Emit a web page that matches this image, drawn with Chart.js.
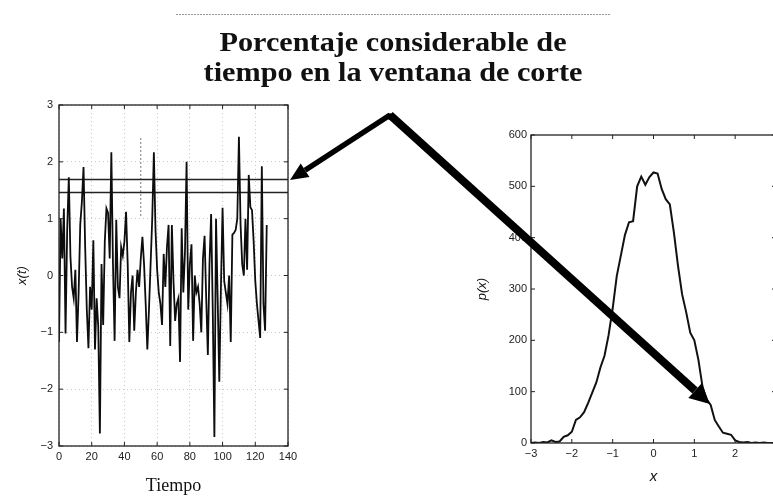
<!DOCTYPE html>
<html>
<head>
<meta charset="utf-8">
<script src="https://cdn.jsdelivr.net/npm/chart.js@4.4.1/dist/chart.umd.min.js"></script>
<style>
  html, body { margin: 0; padding: 0; background: #fff; width: 773px; height: 497px; overflow: hidden; }
  canvas { position: absolute; left: 0; top: 0; }
</style>
</head>
<body>
<canvas id="signalChart" width="773" height="497"></canvas>
<canvas id="densityChart" width="800" height="497"></canvas>
<script>
// left panel: x(t) against time
const signalValues = [
  -1.17, 1.0, 0.3, 1.18, -1.02, 0.8, 1.73, 0.33, -0.2, -0.4,
  0.1, -1.17, -0.3, 0.9, 1.3, 1.91, 0.5, -0.6, -1.28, -0.2,
  -0.6, 0.62, -1.3, -0.4, -0.9, -2.78, 0.2, -0.87, 0.6, 1.18,
  1.1, 0.3, 2.17, 0.2, -1.15, 0.98, -0.2, -0.4, 0.5, 0.35,
  0.6, 1.12, 0.2, -1.17, -0.3, 0.0, -0.97, -0.3, 0.1, -0.2,
  0.3, 0.68, 0.2, -0.5, -1.3, -0.6, 0.2, 1.0, 2.17, 0.8,
  0.1, -0.3, -0.5, -0.87, 0.38, -0.2, 0.5, 0.89, -1.24, 0.89,
  -0.1, -0.8, -0.5, -0.4, -1.52, 0.83, -0.3, 0.4, 2.0, -0.6,
  0.2, 0.55, -1.15, 0.0, -0.3, -0.2, -0.5, -1.0, 0.3, 0.7,
  -0.4, -1.4, 0.2, 1.08, -0.6, -2.84, 1.0, -0.4, -1.87, -0.2,
  1.19, -0.1, -0.3, -0.5, 0.0, -1.17, 0.72, 0.75, 0.8, 1.0,
  2.44, 0.9, 0.2, 0.0, 1.0, 0.1, 1.77, 1.2, 1.15, 0.6,
  -0.1, -0.5, -0.8, -1.1, 1.92, -0.5, -0.97, 0.89
];
const cutLevels = [1.69, 1.46];
const markerTime = 50;
const markerRange = [2.42, 1.04];
const timeTicks = [0, 20, 40, 60, 80, 100, 120, 140];
const signalTicks = [-3, -2, -1, 0, 1, 2, 3];

// right panel: p(x) histogram
const xValues = [
  -3.0, -2.9, -2.8, -2.7, -2.6, -2.5, -2.4, -2.3, -2.2, -2.1,
  -2.0, -1.9, -1.8, -1.7, -1.6, -1.5, -1.4, -1.3, -1.2, -1.1,
  -1.0, -0.9, -0.8, -0.7, -0.6, -0.5, -0.4, -0.3, -0.2, -0.1,
  0.0, 0.1, 0.2, 0.3, 0.4, 0.5, 0.6, 0.7, 0.8, 0.9,
  1.0, 1.1, 1.2, 1.3, 1.4, 1.5, 1.6, 1.7, 1.8, 1.9,
  2.0, 2.1, 2.2, 2.3, 2.4, 2.5, 2.6, 2.7, 2.8, 2.9, 3.0
];
const densityValues = [
  0, 1, 0, 2, 1, 5, 2, 3, 12, 15,
  22, 45, 50, 60, 78, 98, 118, 147, 170, 210,
  262, 325, 365, 405, 430, 432, 500, 519, 503, 518,
  527, 525, 495, 475, 465, 410, 345, 290, 255, 215,
  200, 162, 110, 85, 74, 45, 32, 20, 18, 16,
  5, 2, 1, 2, 0, 1, 0, 1, 0, 0, 0
];
const xTicks = [-3, -2, -1, 0, 1, 2, 3];
const densityTicks = [0, 100, 200, 300, 400, 500, 600];

const titleLines = ["Porcentaje considerable de", "tiempo en la ventana de corte"];

const tickFont = { family: "'Liberation Sans', Arial, sans-serif", size: 11 };
const minusLabel = v => (v < 0 ? "\u2212" + Math.abs(v) : String(v));

// box + inward tick marks, matlab style
const framePlugin = {
  id: "frame",
  afterDraw(chart) {
    const { ctx, chartArea: a, scales } = chart;
    ctx.save();
    ctx.strokeStyle = "#222";
    ctx.lineWidth = 1.3;
    ctx.strokeRect(a.left, a.top, a.right - a.left, a.bottom - a.top);
    ctx.lineWidth = 1;
    scales.x.ticks.forEach(t => {
      const px = scales.x.getPixelForValue(t.value);
      ctx.beginPath();
      ctx.moveTo(px, a.bottom); ctx.lineTo(px, a.bottom - 4);
      ctx.moveTo(px, a.top); ctx.lineTo(px, a.top + 4);
      ctx.stroke();
    });
    scales.y.ticks.forEach(t => {
      const py = scales.y.getPixelForValue(t.value);
      ctx.beginPath();
      ctx.moveTo(a.left, py); ctx.lineTo(a.left + 4, py);
      ctx.moveTo(a.right, py); ctx.lineTo(a.right - 4, py);
      ctx.stroke();
    });
    ctx.restore();
  }
};

const signalChart = new Chart(document.getElementById("signalChart"), {
  type: "line",
  data: {
    datasets: [
      {
        data: signalValues.map((v, i) => ({ x: i, y: v })),
        borderColor: "#0d0d0d",
        borderWidth: 1.8,
        pointRadius: 0
      },
      ...cutLevels.map(l => ({
        data: [{ x: 0, y: l }, { x: 140, y: l }],
        borderColor: "#222",
        borderWidth: 1.4,
        pointRadius: 0
      })),
      {
        data: markerRange.map(v => ({ x: markerTime, y: v })),
        borderColor: "#777",
        borderWidth: 1,
        borderDash: [2, 2],
        pointRadius: 0
      }
    ]
  },
  options: {
    responsive: false,
    animation: false,
    layout: { padding: { left: 0, top: 105, right: 485, bottom: 0 } },
    plugins: { legend: { display: false }, tooltip: { enabled: false } },
    scales: {
      x: {
        type: "linear", min: 0, max: 140,
        afterBuildTicks: s => { s.ticks = timeTicks.map(v => ({ value: v })); },
        afterFit: s => { s.height = 51; s.paddingLeft = 0; s.paddingRight = 0; },
        grid: { color: "#c8c8c8", drawTicks: false },
        border: { display: false, dash: [1, 3] },
        ticks: { padding: 4, color: "#222", font: tickFont, maxRotation: 0, callback: v => String(v) },
        title: {
          display: true, text: "Tiempo", color: "#111",
          font: { family: "'Liberation Serif', 'Times New Roman', serif", size: 18 },
          padding: { top: 0, bottom: 0 }
        }
      },
      y: {
        min: -3, max: 3,
        afterBuildTicks: s => { s.ticks = signalTicks.map(v => ({ value: v })); },
        afterFit: s => { s.width = 59; s.paddingTop = 0; s.paddingBottom = 0; },
        grid: { color: "#c8c8c8", drawTicks: false },
        border: { display: false, dash: [1, 3] },
        ticks: { padding: 6, color: "#222", font: tickFont, callback: minusLabel },
        title: {
          display: true, text: "x(t)", color: "#111",
          font: { family: "'Liberation Sans', Arial, sans-serif", size: 13, style: "italic" },
          padding: { top: 15, bottom: 0 }
        }
      }
    }
  },
  plugins: [framePlugin]
});

function drawArrow(ctx, from, to, width, headLen, headWidth) {
  const ang = Math.atan2(to.y - from.y, to.x - from.x);
  const bx = to.x - Math.cos(ang) * headLen;
  const by = to.y - Math.sin(ang) * headLen;
  ctx.lineWidth = width;
  ctx.beginPath();
  ctx.moveTo(from.x, from.y);
  ctx.lineTo(bx, by);
  ctx.stroke();
  const nx = -Math.sin(ang) * headWidth / 2, ny = Math.cos(ang) * headWidth / 2;
  ctx.beginPath();
  ctx.moveTo(to.x, to.y);
  ctx.lineTo(bx + nx, by + ny);
  ctx.lineTo(bx - nx, by - ny);
  ctx.closePath();
  ctx.fill();
}

// title, dashed rule and the two pointers on top of everything
const overlayPlugin = {
  id: "overlay",
  afterDraw(chart) {
    const ctx = chart.ctx;
    ctx.save();
    ctx.strokeStyle = "#9a9a9a";
    ctx.lineWidth = 1;
    ctx.setLineDash([2, 1]);
    ctx.beginPath();
    ctx.moveTo(176, 14.5); ctx.lineTo(611, 14.5);
    ctx.stroke();
    ctx.setLineDash([]);

    ctx.fillStyle = "#111";
    ctx.textAlign = "center";
    ctx.textBaseline = "middle";
    ctx.font = "bold 27px 'Liberation Serif', 'Times New Roman', serif";
    titleLines.forEach((line, i) => {
      ctx.save();
      ctx.translate(393, 44 + i * 30);
      ctx.scale(1.12, 1);
      ctx.fillText(line, 0, 0);
      ctx.restore();
    });

    const ls = signalChart.scales;
    const leftTip = { x: ls.x.getPixelForValue(140) + 2, y: ls.y.getPixelForValue(1.68) };
    const rightTip = { x: chart.scales.x.getPixelForValue(1.38), y: chart.scales.y.getPixelForValue(76) };
    const apex = { x: 390, y: 115 };
    ctx.fillStyle = "#000";
    ctx.strokeStyle = "#000";
    drawArrow(ctx, apex, rightTip, 8, 20, 20);
    drawArrow(ctx, apex, leftTip, 5.5, 18, 16);
    ctx.beginPath();
    ctx.arc(apex.x, apex.y + 1.5, 3.2, 0, Math.PI * 2);
    ctx.fill();
    ctx.restore();
  }
};

new Chart(document.getElementById("densityChart"), {
  type: "line",
  data: {
    datasets: [{
      data: densityValues.map((v, i) => ({ x: xValues[i], y: v })),
      borderColor: "#111",
      borderWidth: 2,
      pointRadius: 0
    }]
  },
  options: {
    responsive: false,
    animation: false,
    layout: { padding: { left: 471, top: 135, right: 24, bottom: 0 } },
    plugins: { legend: { display: false }, tooltip: { enabled: false } },
    scales: {
      x: {
        type: "linear", min: -3, max: 3,
        afterBuildTicks: s => { s.ticks = xTicks.map(v => ({ value: v })); },
        afterFit: s => { s.height = 54; s.paddingLeft = 0; s.paddingRight = 0; },
        grid: { display: false, drawTicks: false },
        border: { display: false },
        ticks: { padding: 4, color: "#222", font: tickFont, maxRotation: 0, callback: minusLabel },
        title: {
          display: true, text: "x", color: "#111",
          font: { family: "'Liberation Sans', Arial, sans-serif", size: 15, style: "italic" },
          padding: { top: 0, bottom: 11 }
        }
      },
      y: {
        min: 0, max: 600,
        afterBuildTicks: s => { s.ticks = densityTicks.map(v => ({ value: v })); },
        afterFit: s => { s.width = 60; s.paddingTop = 0; s.paddingBottom = 0; },
        grid: { display: false, drawTicks: false },
        border: { display: false },
        ticks: { padding: 4, color: "#222", font: tickFont, callback: v => String(v) },
        title: {
          display: true, text: "p(x)", color: "#111",
          font: { family: "'Liberation Sans', Arial, sans-serif", size: 13, style: "italic" },
          padding: { top: 4, bottom: 0 }
        }
      }
    }
  },
  plugins: [framePlugin, overlayPlugin]
});
</script>
</body>
</html>
